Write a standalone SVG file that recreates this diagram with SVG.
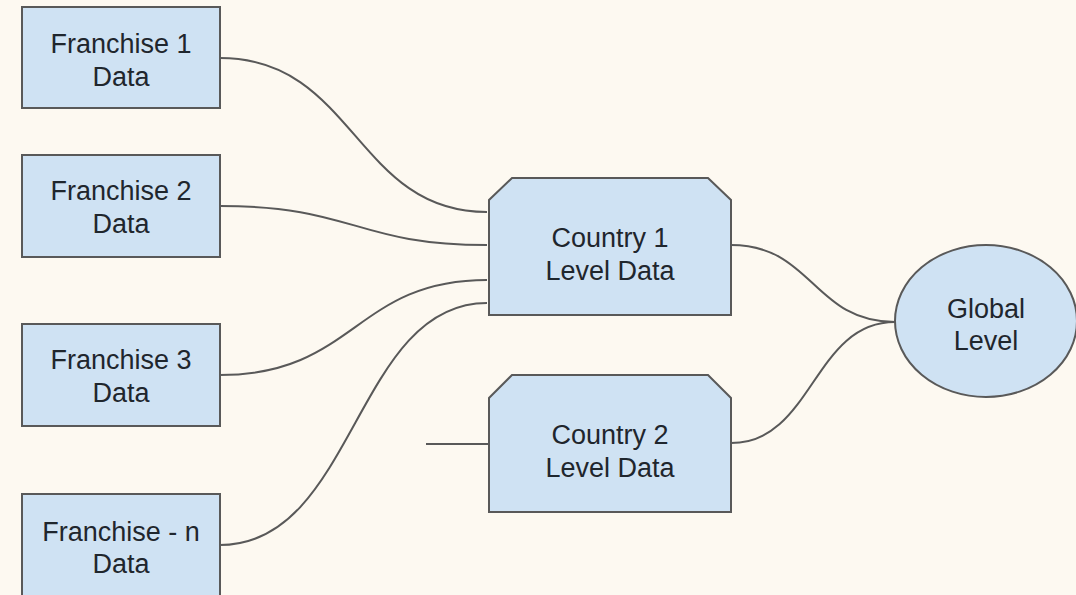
<svg xmlns="http://www.w3.org/2000/svg" width="1076" height="595" viewBox="0 0 1076 595">
  <style>
    .box { fill: #cfe2f3; stroke: #595959; stroke-width: 2; }
    .lbl { font-family: "Liberation Sans", Arial, sans-serif; font-size: 27px; fill: #1f262d; text-anchor: middle; }
    .wire { fill: none; stroke: #595959; stroke-width: 2; }
  </style>
  <rect width="1076" height="595" fill="#fdf9f1"/>

  <g id="connectors">
    <path class="wire" d="M220,58 C355,58 355,212 487,212"/>
    <path class="wire" d="M220,206 C355,206 355,245 487,245"/>
    <path class="wire" d="M220,375 C355,375 355,280 487,280"/>
    <path class="wire" d="M220,545 C355,545 355,303 487,303"/>
    <path class="wire" d="M731,245 C813,245 813,322 895,322"/>
    <path class="wire" d="M731,443 C813,443 813,322 895,322"/>
    <path class="wire" d="M426,444 L489,444"/>
  </g>

  <g id="franchise1">
    <rect class="box" x="22" y="7" width="198" height="101"/>
    <text class="lbl" x="121" y="53">Franchise 1</text>
    <text class="lbl" x="121" y="86">Data</text>
  </g>
  <g id="franchise2">
    <rect class="box" x="22" y="155" width="198" height="102"/>
    <text class="lbl" x="121" y="200">Franchise 2</text>
    <text class="lbl" x="121" y="233">Data</text>
  </g>
  <g id="franchise3">
    <rect class="box" x="22" y="324" width="198" height="102"/>
    <text class="lbl" x="121" y="369">Franchise 3</text>
    <text class="lbl" x="121" y="402">Data</text>
  </g>
  <g id="franchiseN">
    <rect class="box" x="22" y="494" width="198" height="110"/>
    <text class="lbl" x="121" y="541">Franchise - n</text>
    <text class="lbl" x="121" y="573">Data</text>
  </g>

  <g id="country1">
    <path class="box" d="M512,178 L708,178 L731,200 L731,315 L489,315 L489,200 Z"/>
    <text class="lbl" x="610" y="247">Country 1</text>
    <text class="lbl" x="610" y="280">Level Data</text>
  </g>
  <g id="country2">
    <path class="box" d="M512,375 L708,375 L731,398 L731,512 L489,512 L489,398 Z"/>
    <text class="lbl" x="610" y="444">Country 2</text>
    <text class="lbl" x="610" y="477">Level Data</text>
  </g>

  <g id="global">
    <ellipse class="box" cx="986" cy="321" rx="91" ry="76"/>
    <text class="lbl" x="986" y="318">Global</text>
    <text class="lbl" x="986" y="350">Level</text>
  </g>
</svg>
